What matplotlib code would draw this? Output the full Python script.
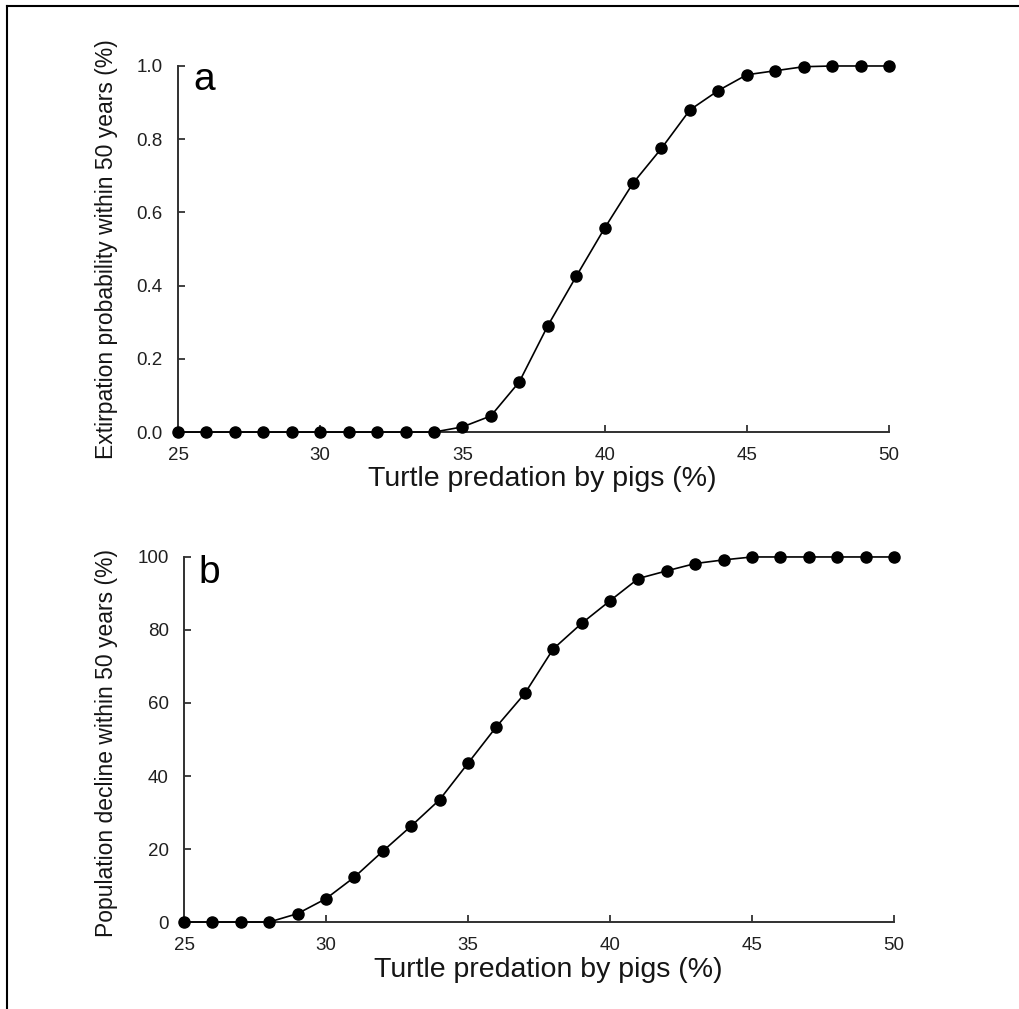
"""
Extirpation probability and population decline vs turtle predation by pigs
"""

import matplotlib
matplotlib.use("Agg")
import matplotlib.pyplot as plt
from matplotlib import font_manager
from matplotlib.lines import Line2D


predation = list(range(25, 51))  # turtle predation by pigs (%)

extirpation = [0, 0, 0, 0, 0, 0, 0, 0, 0, 0,
               0.014, 0.044, 0.137, 0.29, 0.425, 0.557, 0.68, 0.775,
               0.88, 0.933, 0.976, 0.987, 0.998, 1.0, 1.0, 1.0]

decline = [0, 0, 0, 0, 2.3, 6.4, 12.3, 19.4, 26.3, 33.5, 43.5, 53.5,
           62.6, 74.8, 81.8, 88.0, 94.1, 96.2, 98.2, 99.2,
           100, 100, 100, 100, 100, 100]

x_ticks = [25, 30, 35, 40, 45, 50]
a_ticks = [0.0, 0.2, 0.4, 0.6, 0.8, 1.0]
b_ticks = [0, 20, 40, 60, 80, 100]

xlabel = "Turtle predation by pigs (%)"
a_ylabel = "Extirpation probability within 50 years (%)"
b_ylabel = "Population decline within 50 years (%)"


def has_font(name):
    try:
        font_manager.findfont(font_manager.FontProperties(family=name),
                              fallback_to_default=False)
        return True
    except ValueError:
        return False


def style_axes(ax, yticks, yfmt):
    for side in ["top", "right"]:
        ax.spines[side].set_visible(False)
    for side in ["left", "bottom"]:
        ax.spines[side].set_linewidth(1.4)
        ax.spines[side].set_color("#303030")
    ax.set_xlim(25, 50)
    ax.set_xticks(x_ticks)
    ax.set_yticks(yticks)
    ax.set_yticklabels([yfmt.format(v) for v in yticks])
    ax.tick_params(direction="in", length=5, width=1.2, pad=11,
                   labelsize=13.5, colors="#202020")


def main():
    plt.rcParams["font.family"] = ["Liberation Sans", "DejaVu Sans"]

    if has_font("Liberation Sans Narrow"):
        yfam, ysize = ["Liberation Sans Narrow", "Liberation Sans"], 20
    else:
        yfam, ysize = ["Liberation Sans", "DejaVu Sans"], 16.5

    fig = plt.figure(figsize=(10.19, 10.09), dpi=100)
    ax1 = fig.add_axes([0.1747, 0.5718, 0.6977, 0.3628])
    ax2 = fig.add_axes([0.1806, 0.0862, 0.6967, 0.3618])

    # panel a
    ax1.plot(predation, extirpation, color="black", lw=1.2,
             marker="o", ms=8, clip_on=False, zorder=3)
    ax1.set_ylim(0, 1.0)
    style_axes(ax1, a_ticks, "{:.1f}")
    ax1.text(0.021, 0.934, "a", transform=ax1.transAxes, fontsize=28,
             ha="left", va="baseline")

    # panel b
    ax2.plot(predation, decline, color="black", lw=1.2,
             marker="o", ms=8, clip_on=False, zorder=3)
    ax2.set_ylim(0, 100)
    style_axes(ax2, b_ticks, "{:d}")
    ax2.text(0.021, 0.929, "b", transform=ax2.transAxes, fontsize=28,
             ha="left", va="baseline")

    for ax, ylab, lx, ly, top in [(ax1, a_ylabel, -0.084, 0.5, -0.094),
                                  (ax2, b_ylabel, -0.093, 0.49, -0.097)]:
        ax.set_xlabel(xlabel, fontsize=20.5, color="#151515")
        ax.xaxis.set_label_coords(0.513, top)
        ax.xaxis.label.set_va("top")
        ax.set_ylabel(ylab, fontsize=ysize, family=yfam, color="#151515")
        ax.yaxis.set_label_coords(lx, ly)
        ax.yaxis.label.set_va("bottom")

    # frame lines around the figure (top and left only)
    fig.add_artist(Line2D([0.0069, 1.0], [0.994, 0.994], color="black",
                          lw=1.5, transform=fig.transFigure))
    fig.add_artist(Line2D([0.0069, 0.0069], [0.0, 0.994], color="black",
                          lw=1.5, transform=fig.transFigure))

    fig.savefig("out.png", dpi=100, facecolor="white")


if __name__ == "__main__":
    main()
